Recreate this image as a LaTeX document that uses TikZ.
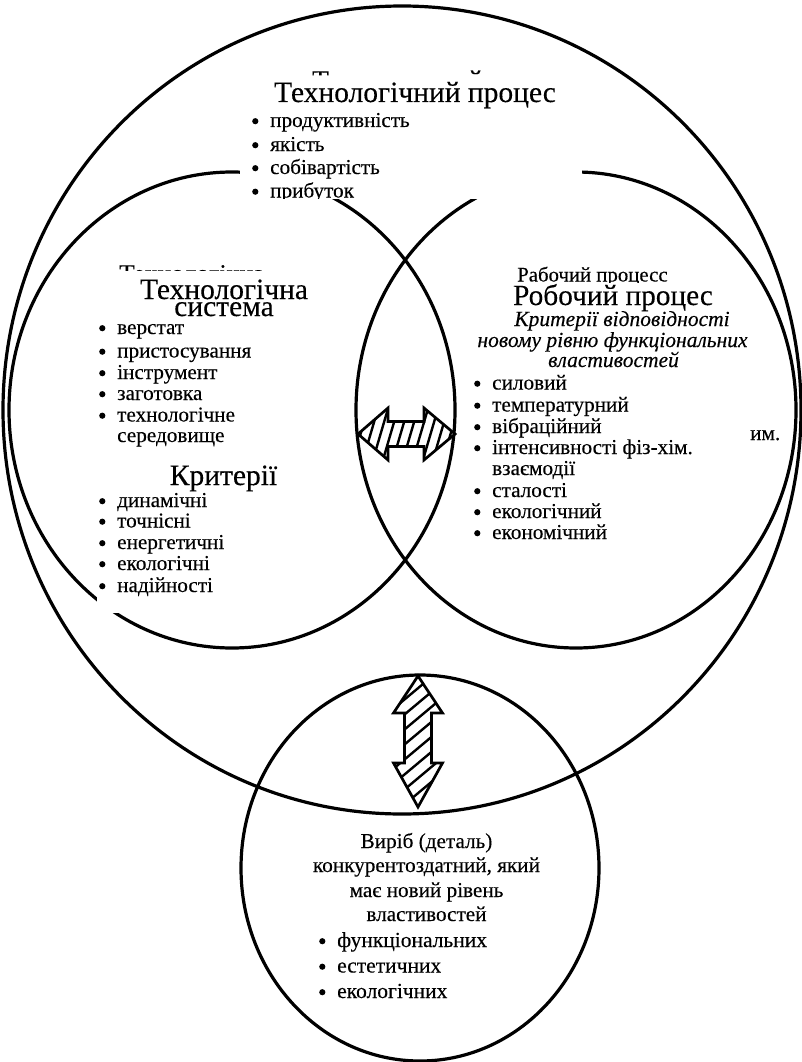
\documentclass[tikz,border=0pt]{standalone}
\usepackage{fontspec}
\setmainfont{Liberation Serif}[FakeBold=0.25]
\usetikzlibrary{shapes.geometric}
\newcommand\fl{\fontsize{21.2}{23}\selectfont}
\newcommand\fh[1]{\fontsize{#1}{#1}\selectfont}
\newcommand\bu{\makebox[18pt][l]{\tikz[baseline=0pt]\fill (3.3pt,5.8pt) circle[radius=3.1pt];}}
\newcommand\hArrPath{(358,434) -- (388,408) -- (388,421.5) -- (424,421.5) -- (424,408) -- (455,434) -- (424,460) -- (424,446.5) -- (388,446.5) -- (388,460) -- cycle}
\newcommand\vArrPath{(418,676) -- (442.5,713) -- (431.5,713) -- (431.5,763) -- (442.5,763) -- (418,807) -- (393.5,763) -- (404.5,763) -- (404.5,713) -- (393.5,713) -- cycle}
\tikzset{
 circ/.style={draw, ellipse, inner sep=0pt, outer sep=0pt, line width=3.2pt},
 li/.style={anchor=base west, inner sep=0pt, font=\fl},
 hd/.style={anchor=base, inner sep=0pt},
 mask/.style={fill=white, draw=none},
 arr/.style={draw, line width=2.7pt, line join=miter},
 hatch/.style={line width=2.4pt},
}
\begin{document}
\begin{tikzpicture}[x=1pt,y=-1pt]
\fill[white] (0,0) rectangle (801,1062);
\useasboundingbox (0,0) rectangle (801,1062);
% circles
\node[circ, minimum width=798pt, minimum height=808pt] (proc) at (402,410) {};
\node[circ, minimum width=446pt, minimum height=476pt] (sys) at (232,410) {};
\node[circ, minimum width=440pt, minimum height=476pt] (work) at (576,410) {};
\node[circ, minimum width=358pt, minimum height=386pt] (part) at (420,868) {};
% partly hidden texts
\begin{scope}
\clip (305,60) rectangle (336,75.5) (462,60) rectangle (498,75.5);
\node[anchor=base west, inner sep=0pt, font=\fh{27}] (hidA) at (312,89) {Технологічний};
\end{scope}
\begin{scope}
\clip (100,255) rectangle (300,270.5);
\node[anchor=base west, inner sep=0pt, font=\fh{25.5}] (hidB) at (119,282) {Технологічна};
\end{scope}
\begin{scope}
\clip (500,260) rectangle (700,282.5);
\node[anchor=base west, inner sep=0pt, font=\fh{20.8}] (hidC) at (517,281.5) {Рабочий процесс};
\end{scope}
\node[li] (rem) at (750,440) {им.};
% masks
\fill[mask] (240,77) rectangle (582,199);
\fill[mask] (97,455) rectangle (300,613);
% arrows
\fill[white] \hArrPath;
\begin{scope}
\clip \hArrPath;
\foreach \i in {0,...,14} {\draw[hatch] ({340+\i*10},470) -- ++(22,-75);}
\end{scope}
\draw[arr] \hArrPath;
\fill[white] \vArrPath;
\begin{scope}
\clip \vArrPath;
\foreach \i in {0,...,14} {\draw[hatch] (380,{690+\i*15}) -- ++(80,-67);}
\end{scope}
\draw[arr] \vArrPath;
% top text
\node[hd, font=\fh{29.5}] (tp) at (415,102) {Технологічний процес};
\begin{scope}
\clip (240,77) rectangle (582,198.5);
\node[li] (tp1) at (252,127) {\bu продуктивність};
\node[li] (tp2) at (252,151) {\bu якість};
\node[li] (tp3) at (252,174) {\bu собівартість};
\node[li] (tp4) at (252,197.5) {\bu прибуток};
\end{scope}
% left text
\node[hd, font=\fh{29.5}] (ts1) at (224,299) {Технологічна};
\node[hd, font=\fh{29.5}] (ts2) at (224,316) {система};
\node[li] (ts3) at (99,334) {\bu верстат};
\node[li] (ts4) at (99,357.5) {\bu пристосування};
\node[li] (ts5) at (99,379) {\bu інструмент};
\node[li] (ts6) at (99,400) {\bu заготовка};
\node[li] (ts7) at (99,421.5) {\bu технологічне};
\node[li] (ts8) at (117,442) {середовище};
\node[hd, font=\fh{29.5}] (kr) at (223.5,485) {Критерії};
\node[li] (kr1) at (99,507) {\bu динамічні};
\node[li] (kr2) at (99,527.5) {\bu точнісні};
\node[li] (kr3) at (99,549) {\bu енергетичні};
\node[li] (kr4) at (99,570) {\bu екологічні};
\node[li] (kr5) at (99,592) {\bu надійності};
% right text
\node[hd, font=\fh{29.3}] (wp) at (613,305) {Робочий процес};
\node[hd, font=\fh{21.5}\itshape] (wc1) at (622,326) {Критерії відповідності};
\node[hd, font=\fh{21.5}\itshape] (wc2) at (612.5,347) {новому рівню функціональних};
\node[hd, font=\fh{21.5}\itshape] (wc3) at (613.5,367) {властивостей};
\node[li] (wr1) at (474,389.5) {\bu силовий};
\node[li] (wr2) at (474,411.5) {\bu температурний};
\node[li] (wr3) at (474,433) {\bu вібраційний};
\node[li] (wr4) at (474,454) {\bu інтенсивності фіз-хім.};
\node[li] (wr5) at (492,475) {взаємодії};
\node[li] (wr6) at (474,497) {\bu сталості};
\node[li] (wr7) at (474,518) {\bu екологічний};
\node[li] (wr8) at (474,539) {\bu економічний};
% bottom text
\node[hd, font=\fh{21.2}] (pt1) at (426.5,848) {Виріб (деталь)};
\node[hd, font=\fh{21.2}] (pt2) at (426.5,872) {конкурентоздатний, який};
\node[hd, font=\fh{21.2}] (pt3) at (426.5,897) {має новий рівень};
\node[hd, font=\fh{21.2}] (pt4) at (426.5,921) {властивостей};
\node[li, font=\fh{21.5}] (pt5) at (319,947) {\bu функціональних};
\node[li, font=\fh{21.5}] (pt6) at (319,972.5) {\bu естетичних};
\node[li, font=\fh{21.5}] (pt7) at (319,998) {\bu екологічних};
\end{tikzpicture}
\end{document}
